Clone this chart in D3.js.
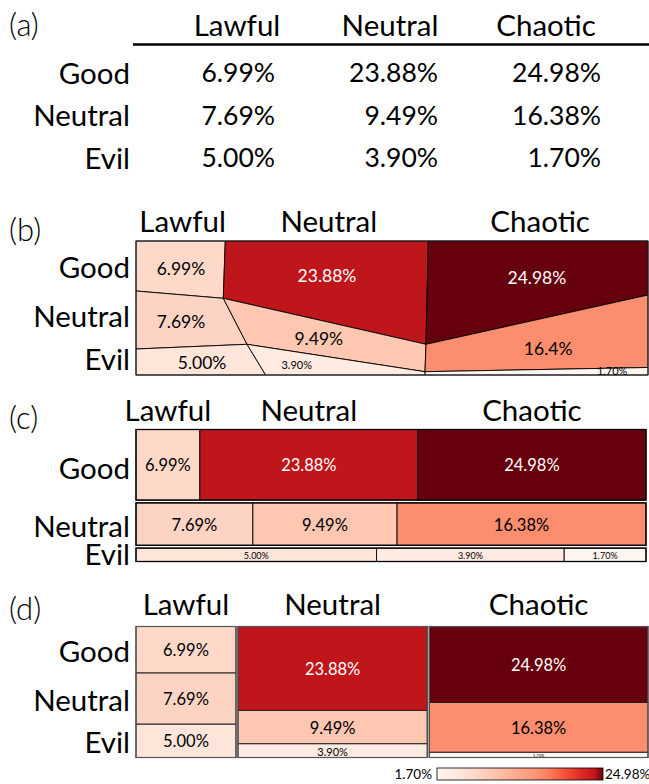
<!DOCTYPE html>
<html><head><meta charset="utf-8">
<script src="https://cdn.jsdelivr.net/npm/d3@7"></script>
<style>
body{margin:0;background:#fff}
svg text{font-family:Lato,"Open Sans",sans-serif;fill:#000}
</style>
</head><body>
<svg id="chart" width="649" height="784"></svg>
<script>
// ---------- data ----------
const alignCols = ["Lawful", "Neutral", "Chaotic"];
const alignRows = ["Good", "Neutral", "Evil"];
const goodVals = [6.99, 23.88, 24.98];
const neutralVals = [7.69, 9.49, 16.38];
const evilVals = [5.00, 3.90, 1.70];
const panelTags = ["(a)", "(b)", "(c)", "(d)"];
const panelBText = [["6.99%", "23.88%", "24.98%"], ["7.69%", "9.49%", "16.4%"], ["5.00%", "3.90%", "1.70%"]];
// colour ramp: value -> position in the Reds scheme
const colorValues = [1.70, 9.49, 16.38, 23.88, 24.98];
const colorPositions = [0, 0.21, 0.39, 0.79, 1];
// panel (b) irregular layout, vertices in unit space [0..1]
const bVertices = {
  TL:[0,0], A:[0.1744,0], G:[0.5709,0], TR:[1,0],
  C:[0,0.3731], B:[0.1705,0.4276], L:[1,0.403],
  D:[0,0.806], E:[0.2168,0.7709], H:[0.5664,0.7709], M:[1,0.944],
  I:[0.5645,0.9754],
  BL:[0,1], F:[0.2533,1], J:[0.5645,1], BR:[1,1]
};
const bPolys = [
  [["TL","A","B","C"], ["A","G","H","B"], ["G","TR","L","H"]],
  [["C","B","E","D"], ["B","H","I","E"], ["H","L","M","I"]],
  [["D","E","F","BL"], ["E","I","J","F"], ["I","M","BR","J"]]
];
const bAnchors = [
  [[0.0879,0.2015],[0.373,0.261],[0.783,0.276]],
  [[0.0879,0.604],[0.357,0.724],[0.805,0.799]],
  [[0.129,0.903],[0.314,0.918],[0.930,0.970]]
];

// ---------- setup ----------
const matrix = [goodVals, neutralVals, evilVals];
const allVals = matrix.flat();
const ramp = d3.scaleLinear().domain(colorValues).range(colorPositions).clamp(true);
const color = v => d3.interpolateReds(ramp(v));
const fmt = v => v.toFixed(2) + "%";
const txtCol = v => v > 20 ? "#fff" : "#000";
const svg = d3.select("#chart");
const FONT = 29.5;

function tag(i, y) {
  svg.append("text").attr("x", 9).attr("y", y).attr("font-size", 31).attr("font-weight", 300).text(panelTags[i]);
}
function rowLabel(t, y) {
  svg.append("text").attr("x", 130).attr("y", y).attr("text-anchor", "end")
    .attr("dominant-baseline", "central").attr("font-size", FONT).text(t);
}
function colLabel(t, x, y) {
  svg.append("text").attr("x", x).attr("y", y).attr("text-anchor", "middle").attr("font-size", FONT).text(t);
}
function cellText(t, x, y, size, v) {
  svg.append("text").attr("x", x).attr("y", y).attr("text-anchor", "middle")
    .attr("dominant-baseline", "central").attr("font-size", size).style("fill", txtCol(v)).text(t);
}

// ---------- (a) table ----------
tag(0, 36);
const aColRight = d3.scalePoint().domain(alignCols).range([275, 601]);
const aHeadX = [237, 390, 546];
alignCols.forEach((c, ci) => colLabel(c, aHeadX[ci], 36));
svg.append("line").attr("x1", 133).attr("x2", 649).attr("y1", 44.5).attr("y2", 44.5)
  .attr("stroke", "#000").attr("stroke-width", 2.6);
const aRowY = d3.scalePoint().domain(alignRows).range([72, 157]);
alignRows.forEach((r, ri) => {
  rowLabel(r, aRowY(r));
  alignCols.forEach((c, ci) => {
    svg.append("text").attr("x", aColRight(c)).attr("y", aRowY(r)).attr("text-anchor", "end")
      .attr("dominant-baseline", "central").attr("font-size", 26.5).text(fmt(matrix[ri][ci]));
  });
});

// ---------- (b) irregular ----------
tag(1, 241);
const bx = d3.scaleLinear().domain([0, 1]).range([136, 648]);
const by = d3.scaleLinear().domain([0, 1]).range([241, 375]);
const pt = k => [bx(bVertices[k][0]), by(bVertices[k][1])];
const gB = svg.append("g");
bPolys.forEach((row, ri) => row.forEach((poly, ci) => {
  gB.append("polygon").attr("points", poly.map(pt).map(p => p.join(",")).join(" "))
    .attr("fill", color(matrix[ri][ci])).attr("stroke", "#000").attr("stroke-width", 0.9)
    .attr("stroke-linejoin", "round");
}));
gB.append("rect").attr("x", bx(0)).attr("y", by(0)).attr("width", bx(1) - bx(0)).attr("height", by(1) - by(0))
  .attr("fill", "none").attr("stroke", "#222").attr("stroke-width", 1);
alignCols.forEach((c, ci) => {
  const top = bPolys[0][ci];
  colLabel(c, (pt(top[0])[0] + pt(top[1])[0]) / 2 + 2, 232);
});
const bRowY = [266, 315, 358];
alignRows.forEach((r, ri) => rowLabel(r, bRowY[ri]));
bPolys.forEach((row, ri) => row.forEach((poly, ci) => {
  const a = bAnchors[ri][ci];
  const v = matrix[ri][ci];
  const small = (ri === 2 && ci > 0);
  cellText(panelBText[ri][ci], bx(a[0]), by(a[1]), small ? 11 : 17.5, v);
}));

// ---------- (c) row mosaic ----------
tag(2, 429);
const cTop = 429.5, cBot = 561.5, cGap = 2.8, cX0 = 136, cX1 = 646;
const rowSums = matrix.map(r => d3.sum(r));
const cH = d3.scaleLinear().domain([0, d3.sum(rowSums)]).range([0, cBot - cTop - 2 * cGap]);
let yCur = cTop;
const cRowCenters = [];
matrix.forEach((row, ri) => {
  const h = cH(rowSums[ri]);
  const xs = d3.scaleLinear().domain([0, rowSums[ri]]).range([cX0, cX1]);
  let acc = 0;
  row.forEach((v, ci) => {
    const x0 = xs(acc), x1 = xs(acc + v);
    svg.append("rect").attr("x", x0).attr("y", yCur).attr("width", x1 - x0).attr("height", h)
      .attr("fill", color(v)).attr("stroke", "#111").attr("stroke-width", 1);
    cellText(fmt(v), (x0 + x1) / 2, yCur + h / 2 + 0.5, ri === 2 ? 9 : 16.5, v);
    if (ri === 0) colLabel(alignCols[ci], (x0 + x1) / 2, 421);
    acc += v;
  });
  svg.append("rect").attr("x", cX0).attr("y", yCur).attr("width", cX1 - cX0).attr("height", h)
    .attr("fill", "none").attr("stroke", "#000").attr("stroke-width", 1.3);
  cRowCenters.push(yCur + h / 2);
  yCur += h + cGap;
});
const cRowShift = [3, 1, -1];
alignRows.forEach((r, ri) => rowLabel(r, cRowCenters[ri] + cRowShift[ri]));

// ---------- (d) column mosaic ----------
tag(3, 620);
const dTop = 626.5, dBot = 757.5, dGap = 2, dX0 = 136, dX1 = 648;
const colSums = alignCols.map((c, ci) => d3.sum(matrix, r => r[ci]));
const dW = d3.scaleLinear().domain([0, d3.sum(colSums)]).range([0, dX1 - dX0 - 2 * dGap]);
let xCur = dX0;
const dLawfulCenters = [];
alignCols.forEach((c, ci) => {
  const w = dW(colSums[ci]);
  const ys = d3.scaleLinear().domain([0, colSums[ci]]).range([dTop, dBot]);
  let acc = 0;
  matrix.forEach((row, ri) => {
    const v = row[ci];
    const y0 = ys(acc), y1 = ys(acc + v);
    svg.append("rect").attr("x", xCur).attr("y", y0).attr("width", w).attr("height", y1 - y0)
      .attr("fill", color(v)).attr("stroke", "#222").attr("stroke-width", 1);
    const h = y1 - y0;
    const size = h < 8 ? 4 : h < 20 ? 11 : 16.5;
    cellText(fmt(v), xCur + w / 2, (y0 + y1) / 2 + 0.5, size, v);
    if (ci === 0) dLawfulCenters.push((y0 + y1) / 2);
    acc += v;
  });
  svg.append("rect").attr("x", xCur).attr("y", dTop).attr("width", w).attr("height", dBot - dTop)
    .attr("fill", "none").attr("stroke", "#555").attr("stroke-width", 1.2);
  colLabel(c, xCur + w / 2, 615);
  xCur += w + dGap;
});
alignRows.forEach((r, ri) => rowLabel(r, dLawfulCenters[ri] + 1));

// ---------- colorbar ----------
const vMin = d3.min(allVals), vMax = d3.max(allVals);
const defs = svg.append("defs");
const grad = defs.append("linearGradient").attr("id", "reds");
d3.range(0, 1.0001, 0.05).forEach(t => grad.append("stop").attr("offset", t)
  .attr("stop-color", color(vMin + t * (vMax - vMin))));
const cbScale = d3.scaleLinear().domain([vMin, vMax]).range([437, 603]);
svg.append("rect").attr("x", cbScale(vMin)).attr("y", 768).attr("width", cbScale(vMax) - cbScale(vMin))
  .attr("height", 12).attr("fill", "url(#reds)").attr("stroke", "#000").attr("stroke-width", 0.8);
svg.append("text").attr("x", cbScale(vMin) - 5).attr("y", 774).attr("text-anchor", "end")
  .attr("dominant-baseline", "central").attr("font-size", 13.5).text(fmt(vMin));
svg.append("text").attr("x", cbScale(vMax) + 2).attr("y", 774).attr("text-anchor", "start")
  .attr("dominant-baseline", "central").attr("font-size", 13.5).text(fmt(vMax));
</script>
</body></html>
